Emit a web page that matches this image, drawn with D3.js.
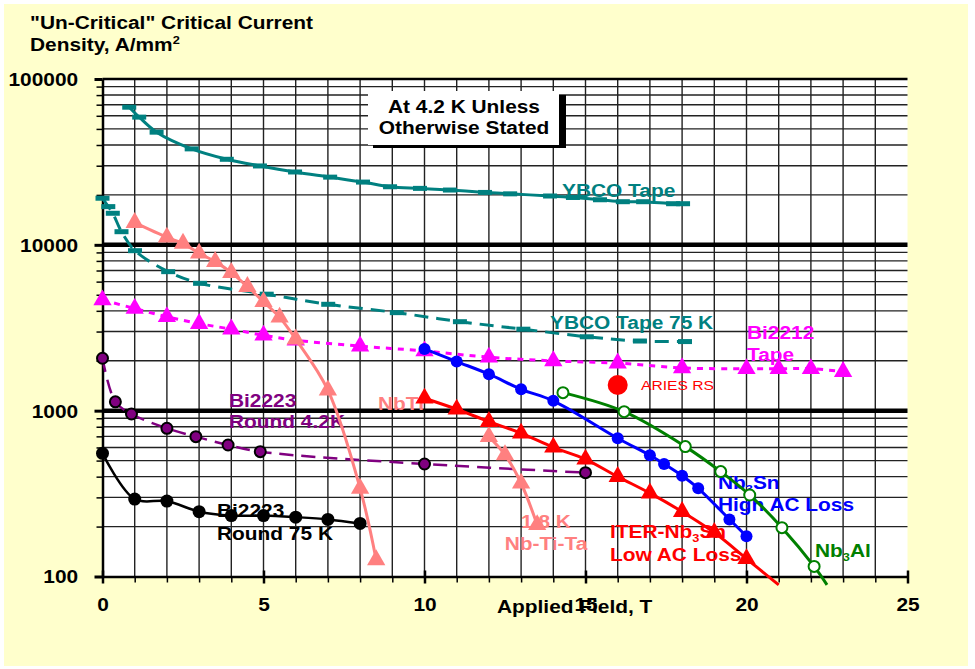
<!DOCTYPE html>
<html>
<head>
<meta charset="utf-8">
<script src="https://cdn.jsdelivr.net/npm/d3@7"></script>
<style>
  body { margin: 0; background: #fff; }
  text { font-family: "Liberation Sans", Arial, sans-serif; }
</style>
</head>
<body>
<script>
// Tick values
var xTickLabels = [0, 5, 10, 15, 20, 25];
var yTickLabels = [100, 1000, 10000, 100000];

// YBCO tape, 4.2 K
var ybcoTapeField = [0.83, 1.14, 1.68, 2.77, 3.86, 4.89, 5.98, 7.07, 8.09, 8.93, 9.86, 10.79, 11.88, 12.66, 13.9, 14.61, 15.45, 16.16, 16.79, 17.72, 18.03];
var ybcoTapeJc = [67600, 58900, 47800, 37900, 32800, 29900, 27500, 25600, 23900, 22400, 21900, 21400, 20700, 20300, 19700, 19300, 18700, 18200, 18200, 17700, 17700];

// YBCO tape, 75 K
var ybco75Field = [0, 0.18, 0.32, 0.59, 1.01, 2.04, 3.03, 5.1, 7.01, 9.14, 11.1, 13.07, 15.04, 16.69, 18.09];
var ybco75Jc = [19100, 17000, 15500, 12000, 9220, 6890, 5860, 5040, 4380, 3900, 3440, 3100, 2790, 2630, 2610];

// Bi2212 tape
var bi2212Field = [0, 1, 2, 3, 4, 5, 6, 8, 10, 12, 14, 16, 18, 20, 21, 22, 23];
var bi2212Jc = [4650, 4130, 3680, 3350, 3100, 2850, 2660, 2450, 2290, 2100, 1995, 1935, 1810, 1790, 1790, 1790, 1720];

// NbTi
var nbtiField = [1, 2, 2.5, 3, 3.5, 4, 4.5, 5, 5.5, 6, 7, 8, 8.5];
var nbtiJc = [13600, 11100, 10200, 8900, 7920, 6800, 5600, 4540, 3660, 2700, 1330, 340, 126];

// Bi2223 round wire, 4.2 K
var bi2223aField = [0, 0.4, 0.9, 2, 2.9, 3.9, 4.9, 10, 15];
var bi2223aJc = [2070, 1130, 955, 783, 697, 621, 566, 477, 423];

// Bi2223 round wire, 75 K
var bi2223bField = [0, 1, 2, 3, 4, 5, 6, 7, 8];
var bi2223bJc = [553, 293, 285, 246, 233, 233, 228, 221, 209];

// Nb3Sn high AC loss
var nb3snField = [10, 11, 12, 13, 14, 16, 17, 17.44, 18, 18.5, 19.47, 20];
var nb3snJc = [2356, 1977, 1660, 1346, 1146, 682, 538, 477, 405, 340, 221, 175];

// ITER Nb3Sn low AC loss
var iterField = [10, 11, 12, 13, 14, 15, 16, 17, 18, 19, 20, 21];
var iterJc = [1188, 1020, 859, 731, 601, 509, 400, 318, 246, 184, 128, 89];

// Nb-Ti-Ta, 1.8 K
var nbtitaField = [12, 12.5, 13, 13.5];
var nbtitaJc = [697, 541, 365, 205];

// Nb3Al
var nb3alField = [14.3, 16.2, 18.1, 19.2, 20.1, 21.1, 22.1, 22.5];
var nb3alJc = [1284, 986, 607, 429, 310, 197, 115, 89];

// ARIES RS design point
var ariesField = [16];
var ariesJc = [1429];

var W = 975, H = 669;
var SX = 1.16; // text is drawn a bit wide in the original

var svg = d3.select("body").append("svg")
  .attr("width", W)
  .attr("height", H);

svg.append("rect")
  .attr("x", 4).attr("y", 4)
  .attr("width", 964).attr("height", 662)
  .attr("fill", "#FFFFCC");

var x = d3.scaleLinear().domain([0, 25]).range([102.5, 907.5]);
var y = d3.scaleLog().domain([100, 100000]).range([576.5, 79]);

// plot area
svg.append("rect")
  .attr("x", x(0)).attr("y", y(100000))
  .attr("width", x(25) - x(0)).attr("height", y(100) - y(100000))
  .attr("fill", "#fff");

// minor log values
var minorVals = [];
[100, 1000, 10000].forEach(function(d) {
  for (var k = 2; k <= 9; k++) minorVals.push(d * k);
});

var grid = svg.append("g");
grid.selectAll(".hgrid")
  .data(minorVals)
  .enter().append("line")
  .attr("x1", x(0)).attr("x2", x(25))
  .attr("y1", function(d) { return y(d); })
  .attr("y2", function(d) { return y(d); })
  .attr("stroke", "#222").attr("stroke-width", 1.4);

grid.selectAll(".vgrid")
  .data(d3.range(1, 25))
  .enter().append("line")
  .attr("x1", function(d) { return x(d); })
  .attr("x2", function(d) { return x(d); })
  .attr("y1", y(100000)).attr("y2", y(100))
  .attr("stroke", "#222").attr("stroke-width", 1.4);

grid.selectAll(".major")
  .data([1000, 10000])
  .enter().append("line")
  .attr("x1", x(0)).attr("x2", x(25))
  .attr("y1", function(d) { return y(d); })
  .attr("y2", function(d) { return y(d); })
  .attr("stroke", "#000").attr("stroke-width", 4.5);

grid.append("line")
  .attr("x1", x(0)).attr("x2", x(25))
  .attr("y1", y(100000)).attr("y2", y(100000))
  .attr("stroke", "#000").attr("stroke-width", 2.5);

// axes
var xMinor = svg.append("g")
  .attr("transform", "translate(0," + y(100) + ")")
  .call(d3.axisBottom(x).tickValues(d3.range(0, 26)).tickSize(6).tickSizeOuter(0).tickFormat(""));
xMinor.select(".domain").attr("stroke-width", 2.5);
xMinor.selectAll(".tick line").attr("stroke-width", 1.5);

var xMajor = svg.append("g")
  .attr("transform", "translate(0," + (y(100) - 6) + ")")
  .call(d3.axisBottom(x).tickValues(xTickLabels).tickSize(13).tickPadding(15).tickSizeOuter(0).tickFormat(d3.format("d")));
xMajor.select(".domain").remove();
xMajor.selectAll(".tick line").attr("stroke-width", 2.5);
xMajor.selectAll(".tick text")
  .attr("font-size", 18).attr("font-weight", "bold").attr("fill", "#000")
  .attr("font-family", "Liberation Sans, Arial, sans-serif")
  .attr("transform", "scale(" + SX + ",1)");

var yMinor = svg.append("g")
  .attr("transform", "translate(" + x(0) + ",0)")
  .call(d3.axisLeft(y).tickValues(minorVals).tickSize(6).tickSizeOuter(0).tickFormat(""));
yMinor.select(".domain").attr("stroke-width", 2.5);
yMinor.selectAll(".tick line").attr("stroke-width", 1.5);

var yMajor = svg.append("g")
  .attr("transform", "translate(" + x(0) + ",0)")
  .call(d3.axisLeft(y).tickValues(yTickLabels).tickSize(8).tickPadding(13).tickSizeOuter(0).tickFormat(d3.format("d")));
yMajor.select(".domain").remove();
yMajor.selectAll(".tick line").attr("stroke-width", 3);
yMajor.selectAll(".tick text")
  .attr("font-size", 18).attr("font-weight", "bold").attr("fill", "#000")
  .attr("font-family", "Liberation Sans, Arial, sans-serif")
  .attr("dy", "0.36em")
  .attr("transform", "scale(" + SX + ",1)");

// legend box
svg.append("rect")
  .attr("x", 373).attr("y", 95).attr("width", 193).attr("height", 53)
  .attr("fill", "#000");
svg.append("rect")
  .attr("x", 368).attr("y", 91).attr("width", 191).attr("height", 54)
  .attr("fill", "#fff");

// text helper: each line is an array of [string, "sub"|"sup"|null]
function label(px, py, lines, color, opts) {
  opts = opts || {};
  var size = opts.size || 18;
  var g = svg.append("g")
    .attr("transform", "translate(" + px + "," + py + ") scale(" + SX + ",1)");
  lines.forEach(function(parts, i) {
    var t = g.append("text")
      .attr("x", 0)
      .attr("y", i * (opts.lh || 22))
      .attr("fill", color)
      .attr("font-size", size)
      .attr("font-weight", opts.weight || "bold")
      .attr("text-anchor", opts.anchor || "start");
    if (typeof parts == "string") parts = [[parts]];
    parts.forEach(function(p) {
      var s = t.append("tspan").text(p[0]);
      if (p[1] == "sub") s.attr("font-size", 11).attr("dy", 4);
      else if (p[1] == "sup") s.attr("font-size", 11).attr("dy", -7);
      else if (p[2]) s.attr("dy", p[2]);
    });
  });
}

label(30, 29, ["\"Un-Critical\" Critical Current",
  [["Density, A/mm"], ["2", "sup"]]], "#000");
label(464, 113, ["At 4.2 K Unless", "Otherwise Stated"], "#000", {anchor: "middle", lh: 21});
label(497, 613, ["Applied Field, T"], "#000");

label(562, 197, ["YBCO Tape"], "#008080");
label(550, 329, ["YBCO Tape 75 K"], "#008080");
label(747, 339, ["Bi2212", "Tape"], "#FF00FF");
label(641, 390, ["ARIES RS"], "#FF0000", {size: 13.5, weight: "normal"});
label(229, 407, ["Bi2223", "Round 4.2K"], "#800080", {lh: 21});
label(217, 517, ["Bi2223", "Round 75 K"], "#000", {lh: 23});
label(378, 410, ["NbTi"], "#FF8080");
label(546, 528, ["1.8 K", "Nb-Ti-Ta"], "#FF8080", {anchor: "middle"});
label(610, 538, [[["ITER-Nb"], ["3", "sub"], ["Sn", null, -4]], "Low AC Loss"], "#FF0000", {lh: 23});
label(718, 489, [[["Nb"], ["3", "sub"], ["Sn", null, -4]], "High AC Loss"], "#0000FF", {lh: 22});
label(815, 557, [[["Nb"], ["3", "sub"], ["Al", null, -4]]], "#008000");

// series
function zip(fs, js) {
  return fs.map(function(f, i) { return {f: f, j: js[i]}; });
}

var line = d3.line()
  .x(function(d) { return x(d.f); })
  .y(function(d) { return y(d.j); })
  .curve(d3.curveCatmullRom.alpha(0.5));

function drawLine(data, color, width, dash) {
  svg.append("path")
    .datum(data)
    .attr("d", line)
    .attr("fill", "none")
    .attr("stroke", color)
    .attr("stroke-width", width)
    .attr("stroke-dasharray", dash || null)
    .attr("stroke-linejoin", "round");
}

var triSym = d3.symbol().type(d3.symbolTriangle).size(145);

function drawTri(data, color) {
  svg.append("g").selectAll("path")
    .data(data.filter(function(d) { return d.j >= 100; }))
    .enter().append("path")
    .attr("d", triSym)
    .attr("transform", function(d) { return "translate(" + x(d.f) + "," + y(d.j) + ")"; })
    .attr("fill", color);
}

function drawDots(data, fill, stroke, r, sw) {
  svg.append("g").selectAll("circle")
    .data(data.filter(function(d) { return d.j >= 100; }))
    .enter().append("circle")
    .attr("cx", function(d) { return x(d.f); })
    .attr("cy", function(d) { return y(d.j); })
    .attr("r", r)
    .attr("fill", fill)
    .attr("stroke", stroke)
    .attr("stroke-width", sw || 0);
}

function drawDash(data, color) {
  svg.append("g").selectAll("rect")
    .data(data)
    .enter().append("rect")
    .attr("x", function(d) { return x(d.f) - 7; })
    .attr("y", function(d) { return y(d.j) - 2.5; })
    .attr("width", 14).attr("height", 5)
    .attr("fill", color);
}

var ybcoTape = zip(ybcoTapeField, ybcoTapeJc);
var ybco75 = zip(ybco75Field, ybco75Jc);
var bi2212 = zip(bi2212Field, bi2212Jc);
var nbti = zip(nbtiField, nbtiJc);
var bi2223a = zip(bi2223aField, bi2223aJc);
var bi2223b = zip(bi2223bField, bi2223bJc);
var nb3sn = zip(nb3snField, nb3snJc);
var iter = zip(iterField, iterJc);
var nbtita = zip(nbtitaField, nbtitaJc);
var nb3al = zip(nb3alField, nb3alJc);
var aries = zip(ariesField, ariesJc);

drawLine(ybcoTape, "#008080", 3);
drawDash(ybcoTape, "#008080");
drawLine(ybco75, "#008080", 3, "14,8");
drawDash(ybco75, "#008080");

drawLine(bi2212, "#FF00FF", 3, "6,6");
drawTri(bi2212, "#FF00FF");

drawLine(bi2223a, "#800080", 2.5, "14,8");
drawDots(bi2223a, "#800080", "#000", 5.5, 2);

drawLine(bi2223b, "#000", 2.5);
drawDots(bi2223b, "#000", "#000", 6.5);

drawLine(nbti, "#FF8080", 3);
drawTri(nbti, "#FF8080");

drawLine(nbtita, "#FF8080", 3);
drawTri(nbtita, "#FF8080");

drawLine(nb3al, "#008000", 3);
drawDots(nb3al, "#fff", "#008000", 5.5, 2);

drawLine(nb3sn, "#0000FF", 3);
drawDots(nb3sn, "#0000FF", "#0000FF", 6);

drawLine(iter, "#FF0000", 3);
drawTri(iter, "#FF0000");

drawDots(aries, "#FF0000", "#FF0000", 10);
</script>
</body>
</html>
